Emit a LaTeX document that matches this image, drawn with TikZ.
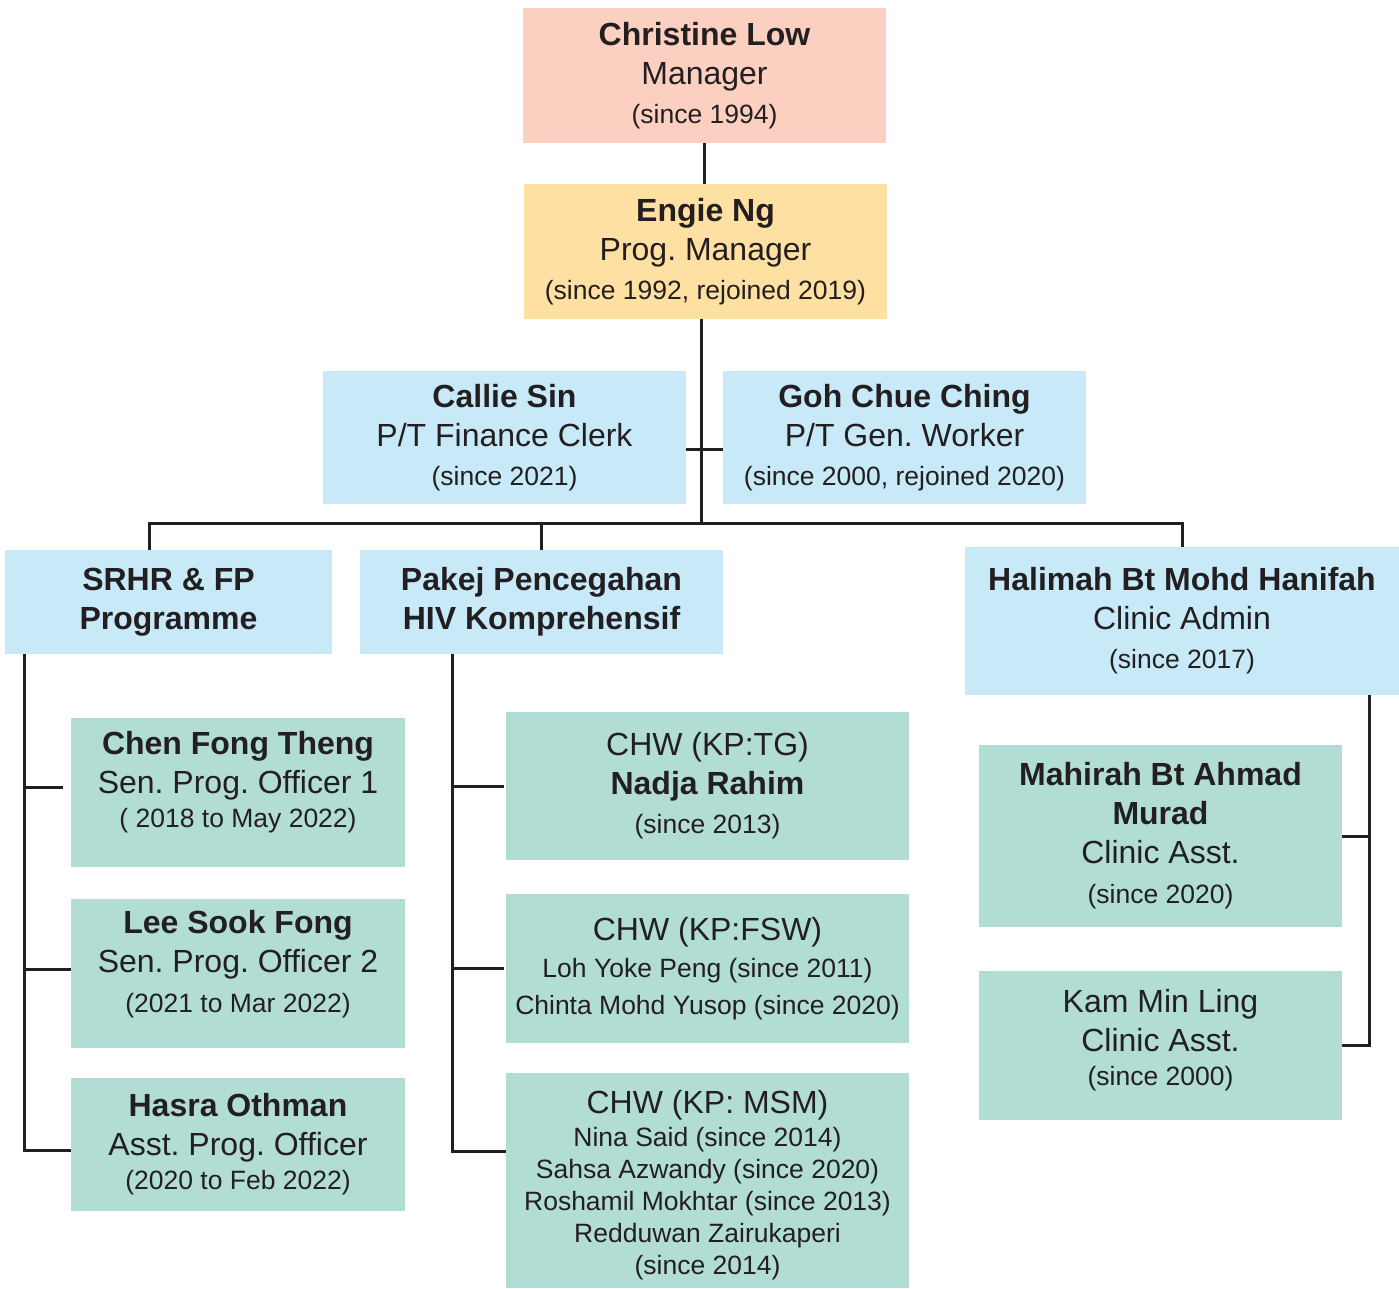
\documentclass[tikz,border=0pt]{standalone}
\usepackage{fontspec}
\setmainfont{Liberation Sans}
\usetikzlibrary{calc}
\definecolor{pinkfill}{HTML}{FBD0C0}
\definecolor{yellowfill}{HTML}{FFE0A3}
\definecolor{bluefill}{HTML}{C7E9F8}
\definecolor{greenfill}{HTML}{B2DDD4}
\definecolor{inkgray}{HTML}{231F20}
\newcommand{\nm}[1]{{\bfseries #1}}
\newcommand{\yrs}[1]{{\fontsize{13.25}{19.5}\selectfont #1}}
\frenchspacing

\begin{document}
\begin{tikzpicture}[x=0.5pt, y=-0.5pt,
	orgbox/.style={rectangle, inner sep=2pt, align=center, text=inkgray, font=\fontsize{16}{19.5}\selectfont},
	pinkbox/.style={orgbox, fill=pinkfill},
	yellowbox/.style={orgbox, fill=yellowfill},
	bluebox/.style={orgbox, fill=bluefill},
	greenbox/.style={orgbox, fill=greenfill},
	orgline/.style={draw=inkgray, line width=1.5pt}]
				\useasboundingbox (0, 0) rectangle (1399, 1289);
				\node[pinkbox, minimum width=181.5pt, minimum height=67.5pt] (christine)at(704.5, 75.5) {\nm{Christine Low}\\Manager\\\yrs{(since 1994)}};
				\node[yellowbox, minimum width=181.5pt, minimum height=67.5pt] (engie)at(705.5, 251.5) {\nm{Engie Ng}\\Prog. Manager\\\yrs{(since 1992, rejoined 2019)}};
				\node[bluebox, minimum width=181.5pt, minimum height=66.5pt] (callie)at(504.5, 437.5) {\nm{Callie Sin}\\P/T Finance Clerk\\\yrs{(since 2021)}};
				\node[bluebox, minimum width=181.5pt, minimum height=66.5pt] (goh)at(904.5, 437.5) {\nm{Goh Chue Ching}\\P/T Gen. Worker\\\yrs{(since 2000, rejoined 2020)}};
				\node[bluebox, minimum width=163.5pt, minimum height=52pt] (srhr)at(168.5, 602) {\nm{SRHR \& FP}\\\nm{Programme}};
				\node[bluebox, minimum width=181.5pt, minimum height=52pt] (pakej)at(541.5, 602) {\nm{Pakej Pencegahan}\\\nm{HIV Komprehensif}};
				\node[bluebox, minimum width=217pt, minimum height=74pt] (halimah)at(1182, 621) {\nm{Halimah Bt Mohd Hanifah}\\Clinic Admin\\\yrs{(since 2017)}};
				\node[greenbox, minimum width=167pt, minimum height=74.5pt, text height=48pt, text depth=13pt] (chen)at(238, 792.5) {\nm{Chen Fong Theng}\\Sen. Prog. Officer 1\\[-2.5pt]\yrs{( 2018 to May 2022)}};
				\node[greenbox, minimum width=167pt, minimum height=74.5pt, text height=50pt, text depth=11pt] (lee)at(238, 973.5) {\nm{Lee Sook Fong}\\Sen. Prog. Officer 2\\[0.5pt]\yrs{(2021 to Mar 2022)}};
				\node[greenbox, minimum width=167pt, minimum height=66.5pt] (hasra)at(238, 1144.5) {\nm{Hasra Othman}\\Asst. Prog. Officer\\[-2.5pt]\yrs{(2020 to Feb 2022)}};
				\node[greenbox, minimum width=201.5pt, minimum height=74pt] (tg)at(707.5, 786) {CHW (KP:TG)\\\nm{Nadja Rahim}\\\yrs{(since 2013)}};
				\node[greenbox, minimum width=201.5pt, minimum height=74.5pt] (fsw)at(707.5, 968.5) {CHW (KP:FSW)\\[-1pt]\yrs{Loh Yoke Peng (since 2011)}\\[-1pt]\yrs{Chinta Mohd Yusop (since 2020)}};
				\node[greenbox, minimum width=201.5pt, minimum height=107.5pt, text height=98pt, text depth=4pt] (msm)at(707.5, 1180.5) {CHW (KP: MSM)\\[-3pt]\yrs{Nina Said (since 2014)}\\[-3.5pt]\yrs{Sahsa Azwandy (since 2020)}\\[-3.5pt]\yrs{Roshamil Mokhtar (since 2013)}\\[-3.5pt]\yrs{Redduwan Zairukaperi}\\[-3.5pt]\yrs{(since 2014)}};
				\node[greenbox, minimum width=181.5pt, minimum height=91pt] (mahirah)at(1160.5, 836) {\nm{Mahirah Bt Ahmad}\\\nm{Murad}\\Clinic Asst.\\[0.5pt]\yrs{(since 2020)}};
				\node[greenbox, minimum width=181.5pt, minimum height=74.5pt, text height=50pt, text depth=10pt] (kam)at(1160.5, 1045.5) {Kam Min Ling\\Clinic Asst.\\[-2.5pt]\yrs{(since 2000)}};
				\coordinate (hub)at(701, 523);
				\coordinate (srhrline)at([xshift=10pt]srhr.south west);
				\coordinate (pakejline)at([xshift=46.5pt]pakej.south west);
				\coordinate (halimahline)at([xshift=-15pt]halimah.south east);
				\coordinate (chenpin)at([yshift=2.75pt]chen.west);
				\coordinate (leepin)at([yshift=2.25pt]lee.west);
				\coordinate (hasrapin)at([yshift=-2.75pt]hasra.west);
				\coordinate (msmpin)at([yshift=14.75pt]msm.west);
				\draw[orgline] (christine.south) -- (christine.south |- engie.north);
				\draw[orgline] (engie.south -| hub) -- (hub);
				\draw[orgline] ([yshift=-6.25pt]callie.east) -- ([yshift=-6.25pt]goh.west);
				\draw[orgline] ([xshift=-9.75pt]srhr.north) |- (hub) -| (halimah.north);
				\draw[orgline] (pakej.north) -- (pakej.north |- hub);
				\draw[orgline] (srhrline) |- (hasrapin);
				\draw[orgline] (srhrline |- chenpin) -- ([xshift=-4pt]chenpin);
				\draw[orgline] (srhrline |- leepin) -- (leepin);
				\draw[orgline] (pakejline) |- (msmpin);
				\draw[orgline] (pakejline |- tg.west) -- ([xshift=-1pt]tg.west);
				\draw[orgline] (pakejline |- fsw.west) -- ([xshift=-1pt]fsw.west);
				\draw[orgline] (halimahline) |- (kam.east);
				\draw[orgline] (halimahline |- mahirah.east) -- (mahirah.east);
			\end{tikzpicture}
\end{document}
